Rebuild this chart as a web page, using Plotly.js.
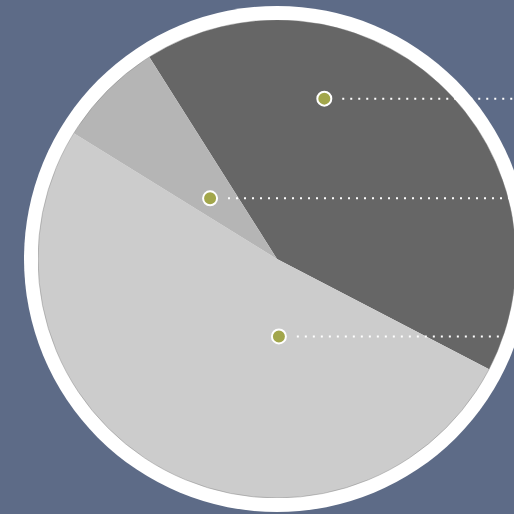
<!DOCTYPE html>
<html>
<head>
<meta charset="utf-8">
<script src="https://cdn.plot.ly/plotly-3.0.1.min.js"></script>
<style>
  html, body { margin: 0; padding: 0; overflow: hidden; background: #5d6b87; width: 514px; height: 514px; }
  #chart { position: absolute; left: 0; top: 0; width: 530px; height: 530px; }
</style>
</head>
<body>
<div id="chart"></div>
<script>
// Pie slices (clockwise from the start angle)
const sliceLabels = ["A", "B", "C"];
const sliceValues = [41.6, 51.2, 7.2];
const sliceColors = ["#666666", "#cccccc", "#b5b5b5"];

// Callout points (pie-relative coordinates: centre = 0, radius = 1)
const calloutX = [0.198, -0.280, 0.008];
const calloutY = [0.671, 0.254, -0.324];

const pieTrace = {
  type: "pie",
  labels: sliceLabels,
  values: sliceValues,
  sort: false,
  direction: "clockwise",
  rotation: -32.3,
  textinfo: "none",
  hoverinfo: "skip",
  showlegend: false,
  marker: { colors: sliceColors, line: { width: 0 } },
  domain: { x: [0, 1], y: [0, 1] }
};

// invisible anchor trace so the cartesian axes exist for the callouts
const anchorTrace = {
  type: "scatter",
  mode: "markers",
  x: calloutX,
  y: calloutY,
  marker: { opacity: 0, size: 1 },
  hoverinfo: "skip",
  showlegend: false
};

const shapes = [
  // white ring behind the pie
  { type: "circle", xref: "paper", yref: "paper", layer: "below",
    x0: -0.0293, x1: 1.0293, y0: -0.0293, y1: 1.0293,
    fillcolor: "#ffffff", line: { width: 0 } },
  // faint edge of the pie
  { type: "circle", xref: "x", yref: "y", layer: "above",
    x0: -1, x1: 1, y0: -1, y1: 1,
    line: { color: "rgba(120,120,120,0.4)", width: 1 } }
];

calloutX.forEach((cx, i) => {
  const cy = calloutY[i];
  shapes.push({
    type: "line", xref: "x", yref: "y", layer: "above",
    x0: cx + 0.075, x1: 1.0, y0: cy, y1: cy,
    line: { color: "#ffffff", width: 2, dash: "2px,6px" }
  });
  shapes.push({
    type: "circle", xref: "x", yref: "y", layer: "above",
    xsizemode: "pixel", ysizemode: "pixel",
    xanchor: cx, yanchor: cy,
    x0: -7, x1: 7, y0: -7, y1: 7,
    fillcolor: "#a2a64b", line: { color: "#ffffff", width: 2 }
  });
});

const layout = {
  width: 530,
  height: 530,
  margin: { l: 38, t: 20, r: 14, b: 32, pad: 0 },
  paper_bgcolor: "#5d6b87",
  plot_bgcolor: "rgba(0,0,0,0)",
  showlegend: false,
  xaxis: { range: [-1, 1], visible: false, fixedrange: true, domain: [0, 1] },
  yaxis: { range: [-1, 1], visible: false, fixedrange: true, domain: [0, 1] },
  shapes: shapes
};

Plotly.newPlot("chart", [anchorTrace, pieTrace], layout, { displayModeBar: false, staticPlot: true });
</script>
</body>
</html>
